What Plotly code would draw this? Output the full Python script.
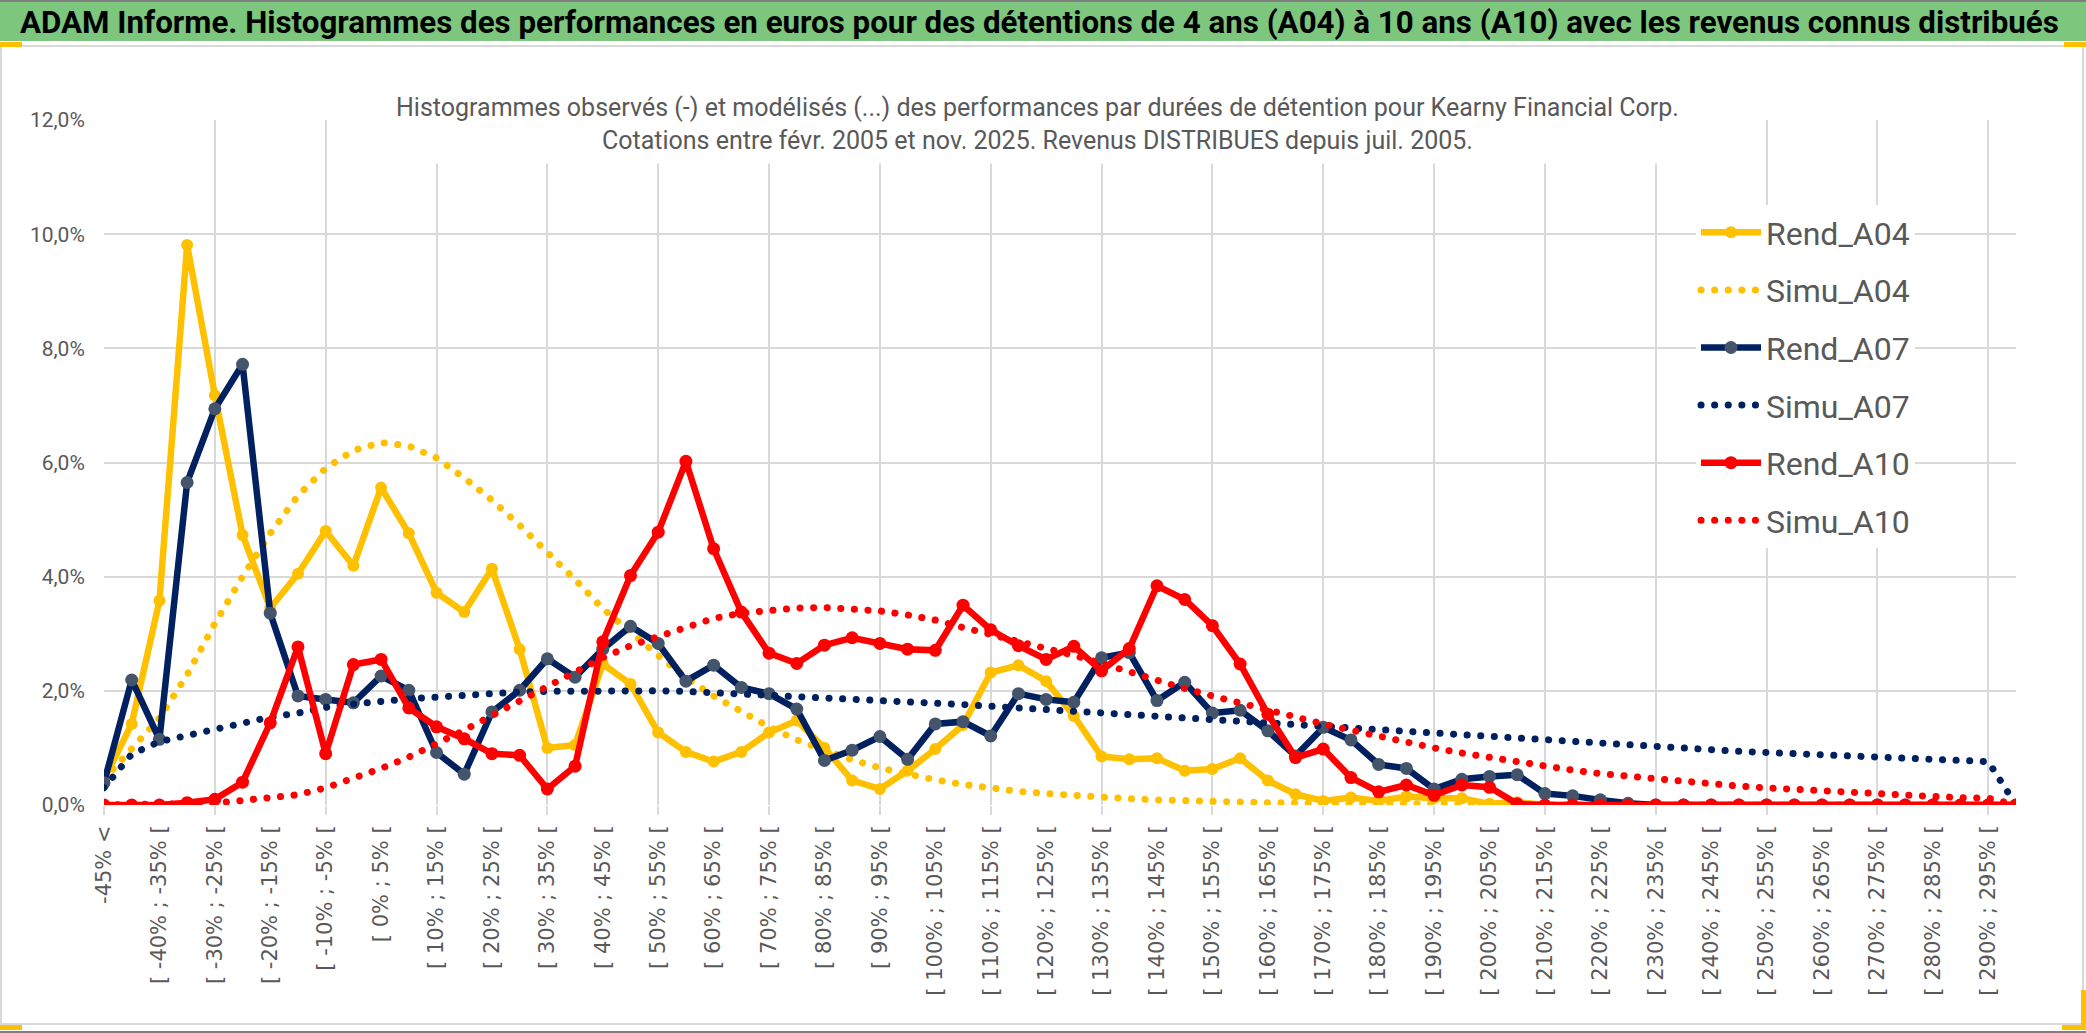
import plotly.graph_objects as go

# ---------------- data (values in %) ----------------
categories = ["-45% <"] + ["[ %d%% ; %d%% [" % (lo, lo + 5) for lo in range(-45, 300, 5)]

rend_a04 = [0.45, 1.42, 3.58, 9.81, 7.18, 4.73, 3.45, 4.05, 4.80, 4.19,
            5.56, 4.76, 3.72, 3.38, 4.14, 2.73, 1.00, 1.05, 2.47, 2.12,
            1.27, 0.93, 0.76, 0.93, 1.27, 1.48, 1.00, 0.43, 0.28, 0.60,
            0.98, 1.40, 2.32, 2.45, 2.17, 1.56, 0.85, 0.80, 0.82, 0.60,
            0.63, 0.82, 0.43, 0.19, 0.07, 0.13, 0.07, 0.15, 0.12, 0.12,
            0.02, 0.05, 0.00, 0.00, 0.00, 0.00, 0.00, 0.00, 0.00, 0.00,
            0.00, 0.00, 0.00, 0.00, 0.00, 0.00, 0.00, 0.00, 0.00, 0.00]

simu_a04 = [0.45, 0.98, 1.52, 2.28, 3.18, 4.00, 4.76, 5.42, 5.90, 6.21,
            6.35, 6.29, 6.08, 5.73, 5.34, 4.90, 4.43, 3.95, 3.44, 3.02,
            2.62, 2.23, 1.91, 1.64, 1.37, 1.14, 0.95, 0.79, 0.65, 0.53,
            0.44, 0.36, 0.29, 0.24, 0.20, 0.16, 0.13, 0.11, 0.09, 0.07,
            0.06, 0.05, 0.04, 0.035, 0.03, 0.025, 0.02, 0.02, 0.015, 0.015,
            0.01, 0.01, 0.01, 0.005, 0.005, 0.005, 0.005, 0.0, 0.0, 0.0,
            0.0, 0.0, 0.0, 0.0, 0.0, 0.0, 0.0, 0.0, 0.0, 0.0]

rend_a07 = [0.39, 2.19, 1.15, 5.65, 6.94, 7.72, 3.36, 1.91, 1.85, 1.79,
            2.26, 2.01, 0.92, 0.54, 1.63, 2.01, 2.56, 2.24, 2.73, 3.13,
            2.83, 2.17, 2.45, 2.06, 1.95, 1.68, 0.78, 0.96, 1.20, 0.80,
            1.42, 1.46, 1.21, 1.95, 1.85, 1.80, 2.58, 2.67, 1.83, 2.15,
            1.61, 1.66, 1.30, 0.86, 1.36, 1.14, 0.71, 0.64, 0.28, 0.45,
            0.50, 0.53, 0.20, 0.16, 0.09, 0.03, 0.00, 0.00, 0.00, 0.00,
            0.00, 0.00, 0.00, 0.00, 0.00, 0.00, 0.00, 0.00, 0.00, 0.00]

simu_a07 = [0.30, 0.89, 1.11, 1.22, 1.31, 1.43, 1.54, 1.61, 1.71, 1.77,
            1.83, 1.86, 1.89, 1.93, 1.96, 1.98, 1.99, 2.00, 2.00, 2.00,
            2.00, 1.99, 1.97, 1.95, 1.92, 1.90, 1.88, 1.86, 1.84, 1.82,
            1.79, 1.76, 1.73, 1.70, 1.67, 1.65, 1.62, 1.59, 1.56, 1.52,
            1.49, 1.46, 1.43, 1.39, 1.36, 1.33, 1.31, 1.28, 1.26, 1.23,
            1.19, 1.15, 1.12, 1.09, 1.06, 1.04, 1.02, 0.99, 0.97, 0.94,
            0.92, 0.90, 0.88, 0.86, 0.84, 0.82, 0.80, 0.78, 0.76, 0.00]

rend_a10 = [0.00, 0.00, 0.00, 0.04, 0.10, 0.40, 1.44, 2.77, 0.90, 2.46,
            2.55, 1.70, 1.37, 1.16, 0.90, 0.87, 0.28, 0.68, 2.86, 4.02,
            4.78, 6.02, 4.49, 3.38, 2.66, 2.48, 2.80, 2.93, 2.83, 2.73,
            2.71, 3.50, 3.07, 2.79, 2.55, 2.78, 2.35, 2.74, 3.84, 3.60,
            3.14, 2.47, 1.59, 0.83, 0.98, 0.48, 0.23, 0.35, 0.17, 0.35,
            0.31, 0.02, 0.00, 0.00, 0.00, 0.00, 0.00, 0.00, 0.00, 0.00,
            0.00, 0.00, 0.00, 0.00, 0.00, 0.00, 0.00, 0.00, 0.00, 0.00]

simu_a10 = [0.00, 0.00, 0.00, 0.01, 0.03, 0.08, 0.12, 0.18, 0.30, 0.46,
            0.64, 0.84, 1.07, 1.31, 1.57, 1.82, 2.06, 2.32, 2.58, 2.79,
            2.96, 3.13, 3.27, 3.36, 3.42, 3.45, 3.46, 3.44, 3.40, 3.33,
            3.24, 3.11, 2.99, 2.85, 2.76, 2.62, 2.48, 2.33, 2.17, 2.04,
            1.91, 1.78, 1.66, 1.54, 1.42, 1.31, 1.20, 1.10, 1.00, 0.91,
            0.83, 0.75, 0.67, 0.61, 0.55, 0.50, 0.45, 0.40, 0.36, 0.33,
            0.30, 0.27, 0.24, 0.21, 0.19, 0.17, 0.15, 0.13, 0.12, 0.00]

y_tick_vals = [0, 2, 4, 6, 8, 10, 12]
y_tick_text = ["0,0%", "2,0%", "4,0%", "6,0%", "8,0%", "10,0%", "12,0%"]

title_text = ("ADAM Informe. Histogrammes des performances en euros pour des détentions "
              "de 4 ans (A04) à 10 ans (A10) avec les revenus connus distribués")
subtitle_l1 = ("Histogrammes observés (-) et modélisés (...) des performances par durées "
               "de détention pour Kearny Financial Corp.")
subtitle_l2 = "Cotations entre févr. 2005 et nov. 2025. Revenus DISTRIBUES depuis juil. 2005."

# ---------------- style ----------------
W, H = 2086, 1033
L, R, T, B = 104, 70, 120, 228
PW, PH = W - L - R, H - T - B
FONT = "Roboto, sans-serif"
GREY = "#595959"
GRID = "#D9D9D9"
YEL, NAVY, RED = "#FFC000", "#002060", "#FF0000"

x = list(range(len(categories)))


def px_x(p):
    return (p - L) / PW


def px_y(p):
    return (H - B - p) / PH


fig = go.Figure()
series = [
    ("Rend_A04", rend_a04, YEL, True, YEL, 12),
    ("Simu_A04", simu_a04, YEL, False, None, 0),
    ("Rend_A07", rend_a07, NAVY, True, "#44546A", 13),
    ("Simu_A07", simu_a07, NAVY, False, None, 0),
    ("Rend_A10", rend_a10, RED, True, RED, 13),
    ("Simu_A10", simu_a10, RED, False, None, 0),
]
for name, vals, col, solid, mcol, msize in series:
    if solid:
        fig.add_trace(go.Scatter(
            x=x, y=vals, name=name, mode="lines+markers", legendgroup=name,
            line=dict(color=col, width=6.5),
            marker=dict(color=mcol, size=msize, line=dict(width=0)),
        ))
    else:
        fig.add_trace(go.Scatter(
            x=x, y=vals, name=name, mode="lines", legendgroup=name,
            line=dict(color=col, width=7, dash="7px,7px"),
        ))

shapes = [
    # green title banner
    dict(type="rect", xref="paper", yref="paper", x0=px_x(0), x1=px_x(W),
         y0=px_y(41), y1=px_y(0), fillcolor="#7DC67D", line=dict(width=0), layer="below"),
    dict(type="line", xref="paper", yref="paper", x0=px_x(0), x1=px_x(W),
         y0=px_y(1), y1=px_y(1), line=dict(color="#7F7F7F", width=2)),
    # chart border
    dict(type="rect", xref="paper", yref="paper", x0=px_x(1), x1=px_x(W - 3),
         y0=px_y(1024), y1=px_y(46), line=dict(color=GRID, width=2), layer="below"),
    dict(type="line", xref="paper", yref="paper", x0=px_x(0), x1=px_x(W),
         y0=px_y(1032), y1=px_y(1032), line=dict(color="#7F7F7F", width=2)),
    # gold corner tabs
    dict(type="rect", xref="paper", yref="paper", x0=px_x(0), x1=px_x(22),
         y0=px_y(47), y1=px_y(42), fillcolor=YEL, line=dict(width=0)),
    dict(type="rect", xref="paper", yref="paper", x0=px_x(W - 22), x1=px_x(W),
         y0=px_y(47), y1=px_y(42), fillcolor=YEL, line=dict(width=0)),
    dict(type="rect", xref="paper", yref="paper", x0=px_x(0), x1=px_x(22),
         y0=px_y(1030), y1=px_y(1025), fillcolor=YEL, line=dict(width=0)),
    dict(type="rect", xref="paper", yref="paper", x0=px_x(W - 24), x1=px_x(W),
         y0=px_y(1030), y1=px_y(1025), fillcolor=YEL, line=dict(width=0)),
    dict(type="rect", xref="paper", yref="paper", x0=px_x(W - 5), x1=px_x(W),
         y0=px_y(1030), y1=px_y(990), fillcolor=YEL, line=dict(width=0)),
]

annotations = [
    dict(text="<b>" + title_text + "</b>", xref="paper", yref="paper",
         x=px_x(18), y=px_y(22), xanchor="left", yanchor="middle", showarrow=False,
         font=dict(family=FONT, size=31.3, color="#000000")),
    dict(text=subtitle_l1 + "<br>" + subtitle_l2, xref="paper", yref="paper",
         x=px_x(1037), y=px_y(124), xanchor="center", yanchor="middle", showarrow=False,
         align="center", bgcolor="#FFFFFF", borderpad=8,
         font=dict(family=FONT, size=25, color=GREY)),
]

fig.update_layout(
    width=W, height=H,
    margin=dict(l=L, r=R, t=T, b=B, pad=0),
    paper_bgcolor="#FFFFFF", plot_bgcolor="#FFFFFF",
    showlegend=True,
    legend=dict(x=px_x(1696), y=px_y(205), xanchor="left", yanchor="top",
                bgcolor="#FFFFFF", borderwidth=0, tracegroupgap=13,
                font=dict(family=FONT, size=32, color=GREY),
                itemwidth=60, entrywidth=260),
    shapes=shapes, annotations=annotations,
    xaxis=dict(range=[0, len(categories) - 1], tickmode="array",
               tickvals=x[::2], ticktext=categories[::2], tickangle=-90,
               tickfont=dict(family="DejaVu Sans", size=21, color=GREY),
               ticks="outside", ticklen=11, tickcolor="rgba(0,0,0,0)",
               showgrid=False, zeroline=False, showline=False,
               minor=dict(tick0=0, dtick=4, showgrid=True, gridcolor=GRID, gridwidth=2,
                          ticks="outside", ticklen=9, tickcolor=GRID, tickwidth=2)),
    yaxis=dict(range=[0, 12], tickmode="array", tickvals=y_tick_vals, ticktext=y_tick_text,
               tickfont=dict(family=FONT, size=21, color=GREY),
               showgrid=True, gridcolor=GRID, gridwidth=2, zeroline=False, showline=False,
               ticks="outside", ticklen=14, tickcolor="rgba(0,0,0,0)"),
)

post = """
document.body.style.margin='0';
document.body.style.overflow='hidden';
document.querySelectorAll('path.js-line').forEach(function(p){
  var d = p.style.strokeDasharray;
  if (d && d !== 'none' && d !== '') {
    p.style.strokeLinecap = 'round';
    p.style.strokeDasharray = '0.1px,13.5px';
  }
});
"""
fig.write_html("out.html", post_script=post, config={"displayModeBar": False})
